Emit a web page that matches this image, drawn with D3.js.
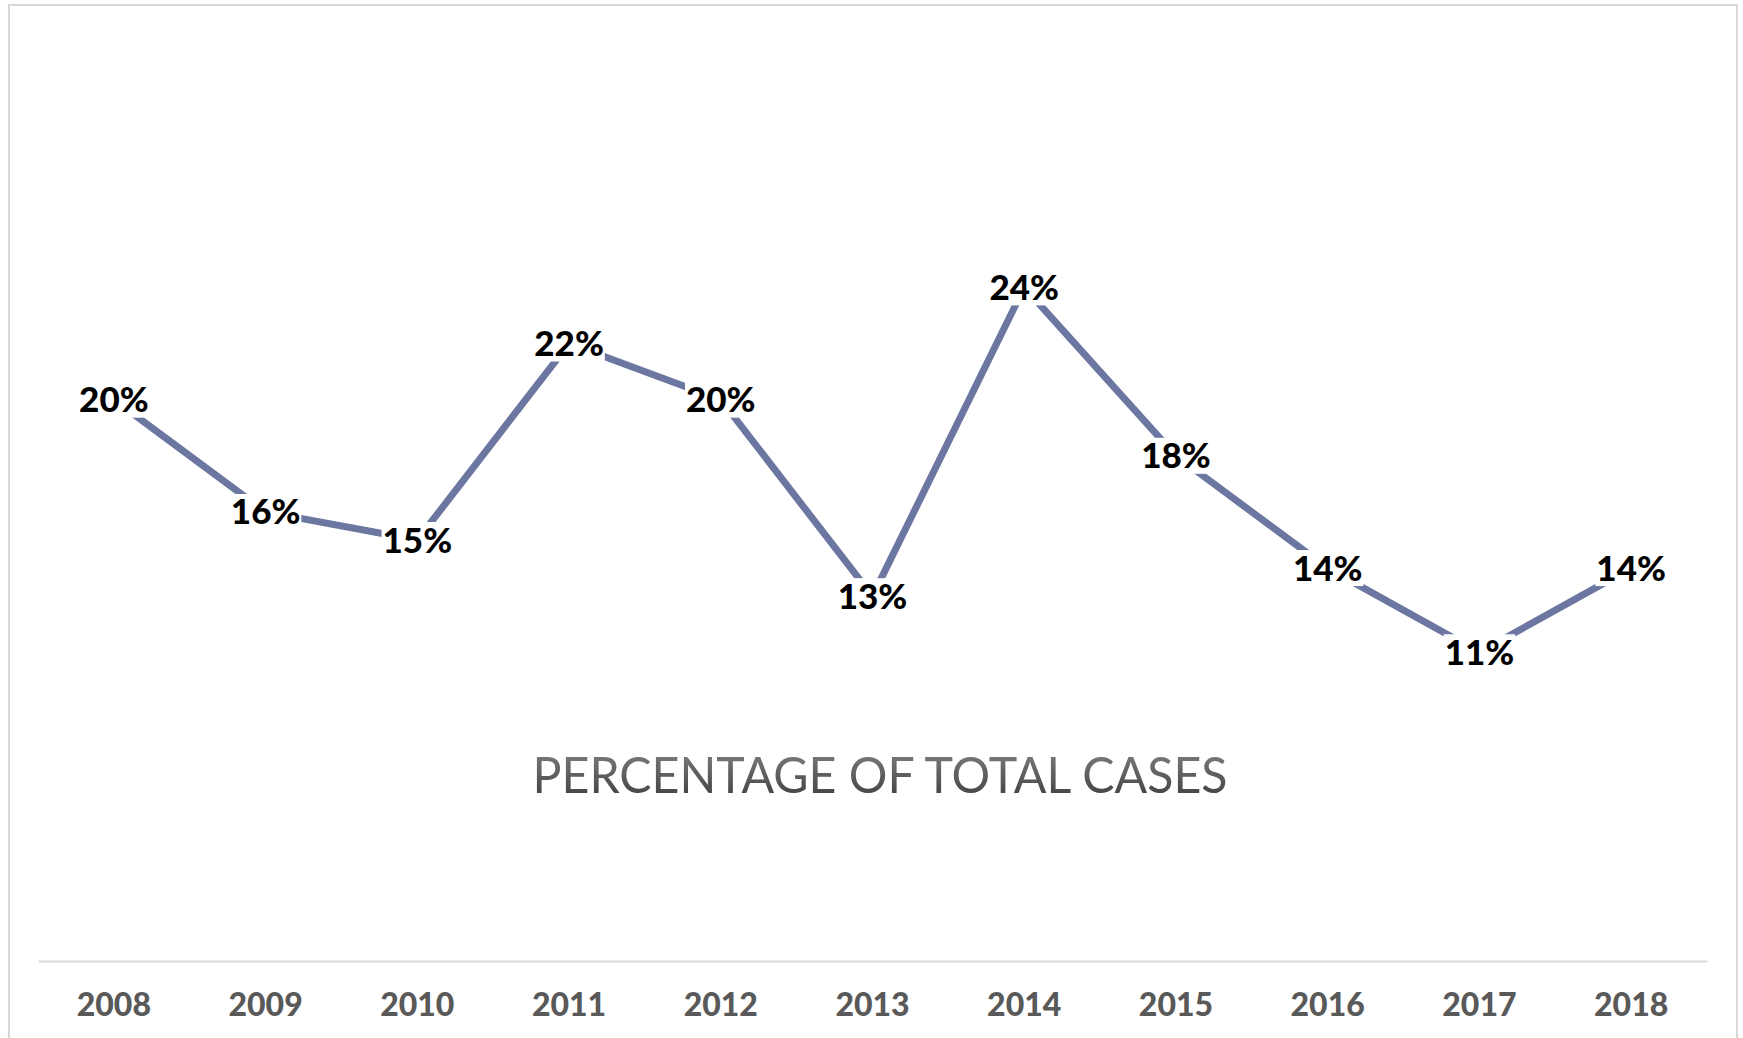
<!DOCTYPE html>
<html>
<head>
<meta charset="utf-8">
<script src="https://cdn.jsdelivr.net/npm/d3@7"></script>
<style>
  html, body { margin: 0; padding: 0; background: #ffffff; }
  svg { display: block; }
</style>
</head>
<body>
<div id="chart"></div>
<script>
// data
const years = ["2008", "2009", "2010", "2011", "2012", "2013", "2014", "2015", "2016", "2017", "2018"];
const shares = [0.20, 0.16, 0.15, 0.22, 0.20, 0.13, 0.24, 0.18, 0.14, 0.11, 0.14];
const chartTitle = "PERCENTAGE OF TOTAL CASES";

const width = 1743, height = 1038;

const svg = d3.select("#chart").append("svg")
    .attr("width", width)
    .attr("height", height);

// outer frame (bottom edge runs off the picture)
svg.append("rect")
    .attr("x", 9).attr("y", 5)
    .attr("width", 1728).attr("height", 1060)
    .attr("fill", "#ffffff")
    .attr("stroke", "#d9d9d9")
    .attr("stroke-width", 2);

const x = d3.scaleBand().domain(years).range([38, 1707]);
const y = d3.scaleLinear().domain([0, 0.30]).range([961, 119]);

// title with the grey gradient
const defs = svg.append("defs");
const grad = defs.append("linearGradient")
    .attr("id", "titleGrad")
    .attr("x1", 0).attr("y1", 0).attr("x2", 0).attr("y2", 1);
grad.append("stop").attr("offset", "0%").attr("stop-color", "#858585");
grad.append("stop").attr("offset", "100%").attr("stop-color", "#3a3a3a");

svg.append("text")
    .attr("x", 880)
    .attr("y", 793)
    .attr("text-anchor", "middle")
    .attr("font-family", "Lato, 'Open Sans', sans-serif")
    .attr("font-size", 50)
    .attr("textLength", 695)
    .attr("lengthAdjust", "spacingAndGlyphs")
    .attr("fill", "url(#titleGrad)")
    .text(chartTitle);

// x axis: plain line + bold year labels
const xAxis = svg.append("g")
    .attr("transform", `translate(0,${y(0)})`)
    .call(d3.axisBottom(x).tickSize(0).tickPadding(0));
xAxis.select(".domain").attr("stroke", "#d9d9d9").attr("stroke-width", 2);
xAxis.selectAll("text")
    .attr("dy", null)
    .attr("y", 55)
    .attr("fill", "#595959")
    .attr("font-family", "Lato, 'Open Sans', sans-serif")
    .attr("font-weight", 900)
    .attr("font-size", 32);

// the line
const pts = years.map((yr, i) => ({ year: yr, v: shares[i] }));
const line = d3.line()
    .x(d => x(d.year) + x.bandwidth() / 2)
    .y(d => y(d.v));

svg.append("path")
    .datum(pts)
    .attr("fill", "none")
    .attr("stroke", "#6b77a1")
    .attr("stroke-width", 7)
    .attr("stroke-linejoin", "round")
    .attr("d", line);

// centred data labels, each on a white box that hides the line
const lab = svg.append("g").selectAll("g")
    .data(pts)
    .join("g")
    .attr("transform", d => `translate(${x(d.year) + x.bandwidth() / 2},${y(d.v)})`);

const bg = lab.append("rect").attr("fill", "#ffffff");

const txt = lab.append("text")
    .attr("text-anchor", "middle")
    .attr("y", 12.5)
    .attr("font-family", "Lato, 'Open Sans', sans-serif")
    .attr("font-weight", 900)
    .attr("font-size", 35)
    .attr("fill", "#000000")
    .text(d => d3.format(".0%")(d.v));

txt.each(function () {
    const w = this.getComputedTextLength();
    d3.select(this.previousSibling)
        .attr("x", -w / 2 - 1)
        .attr("width", w + 2)
        .attr("y", -18)
        .attr("height", 36);
});
</script>
</body>
</html>
